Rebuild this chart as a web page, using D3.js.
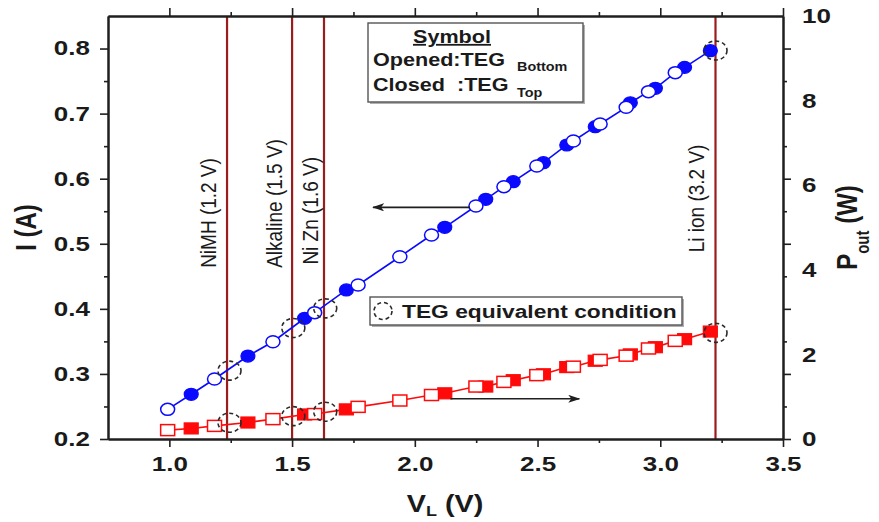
<!DOCTYPE html>
<html><head><meta charset="utf-8">
<script src="https://cdn.jsdelivr.net/npm/d3@7"></script>
<style>
body{margin:0;background:#fff}
svg{display:block}
text{font-family:"Liberation Sans",Arial,Helvetica,sans-serif;fill:#1a1a1a}
</style>
</head><body>
<svg id="c" width="879" height="522"></svg>
<script>
// ---------- data ----------
// TEG Bottom (opened symbols)
const bottomV = [0.993, 1.184, 1.422, 1.592, 1.769, 1.939, 2.068, 2.249, 2.363, 2.497, 2.646, 2.755, 2.861, 2.952, 3.061];
const bottomI = [0.2456, 0.2922, 0.3495, 0.3941, 0.4366, 0.4801, 0.5135, 0.558, 0.5877, 0.6195, 0.6579, 0.684, 0.7097, 0.7337, 0.7629];
const bottomP = [0.21, 0.31, 0.47, 0.59, 0.76, 0.91, 1.04, 1.24, 1.35, 1.51, 1.71, 1.87, 1.97, 2.14, 2.32];
// TEG Top (closed symbols)
const topV = [1.089, 1.320, 1.551, 1.721, 2.122, 2.289, 2.401, 2.524, 2.619, 2.735, 2.878, 2.980, 3.099, 3.204];
const topI = [0.2687, 0.3275, 0.3855, 0.429, 0.5253, 0.5683, 0.5954, 0.6246, 0.6518, 0.6799, 0.7167, 0.7389, 0.7711, 0.7967];
const topP = [0.25, 0.39, 0.58, 0.70, 1.08, 1.24, 1.39, 1.53, 1.70, 1.85, 2.00, 2.17, 2.36, 2.54];
// TEG equivalent condition
const teqV = [1.245, 1.505, 1.635, 3.225];
const teqI = [0.305, 0.3706, 0.4008, 0.797];
const teqP = [0.385, 0.54, 0.645, 2.51];
// battery voltage lines
const batteryNames = ["NiMH (1.2 V)", "Alkaline (1.5 V)", "Ni Zn (1.6 V)", "Li ion (3.2 V)"];
const batteryV = [1.235, 1.50, 1.63, 3.225];
// ticks
const xMajor = [1.0, 1.5, 2.0, 2.5, 3.0, 3.5];
const xMinor = [1.25, 1.75, 2.25, 2.75, 3.25];
const yLMajor = [0.2, 0.3, 0.4, 0.5, 0.6, 0.7, 0.8];
const yLMinor = [0.25, 0.35, 0.45, 0.55, 0.65, 0.75];
const yRLabels = [0, 2, 4, 6, 8, 10];

// ---------- layout ----------
const L = 108, R = 783, T = 16, B = 439;
const SX = 1.2;      // horizontal stretch of the original picture's text
const SXT = 1.3;     // stretch of tick numbers
const BLUE = "#0a0aff", RED = "#ff0a0a", VLINE = "#9a1c1c", INK = "#1f1f1f";

const svg = d3.select("#c");
const x = d3.scaleLinear([0.75, 3.5], [L, R]);
const yL = d3.scaleLinear([0.2, 0.85], [B, T]);
const yR = d3.scaleLinear([0, 10], [B, T]);

function stretch(sel, s) {
  sel.each(function () {
    const t = d3.select(this);
    const px = +t.attr("x") || 0, py = +t.attr("y") || 0;
    t.attr("transform", `translate(${px},${py}) scale(${s},1) translate(${-px},${-py})`);
  });
}
function styleAxis(g) {
  g.select(".domain").attr("stroke", INK).attr("stroke-width", 2);
  g.selectAll(".tick line").attr("stroke", INK).attr("stroke-width", 1.6);
  g.selectAll(".tick text").style("font-size", "20px").style("font-weight", "bold").attr("fill", INK);
}

// ---------- battery lines & labels ----------
const bat = svg.append("g");
batteryV.forEach((v, i) => {
  bat.append("line").attr("x1", x(v)).attr("x2", x(v)).attr("y1", T).attr("y2", B)
    .attr("stroke", VLINE).attr("stroke-width", 2.2);
});
const labelBottomI = [0.463, 0.463, 0.468, 0.487];
const labelGap = [11, 10, 6, 12];
batteryNames.forEach((n, i) => {
  bat.append("text").text(n)
    .attr("transform", `translate(${x(batteryV[i]) - labelGap[i]},${yL(labelBottomI[i])}) scale(${SX},1) rotate(-90)`)
    .attr("text-anchor", "start").style("font-size", "19px");
});

// ---------- axes ----------
const gB = svg.append("g").attr("transform", `translate(0,${B})`)
  .call(d3.axisBottom(x).tickValues(xMajor).tickSize(8).tickSizeOuter(0).tickPadding(10).tickFormat(d3.format(".1f")));
svg.append("g").attr("transform", `translate(0,${B})`)
  .call(d3.axisBottom(x).tickValues(xMinor).tickSize(4).tickSizeOuter(0).tickFormat("")).call(styleAxis);
const gT = svg.append("g").attr("transform", `translate(0,${T})`)
  .call(d3.axisTop(x).tickValues(xMajor).tickSize(8).tickSizeOuter(0).tickFormat(""));
svg.append("g").attr("transform", `translate(0,${T})`)
  .call(d3.axisTop(x).tickValues(xMinor).tickSize(4).tickSizeOuter(0).tickFormat("")).call(styleAxis);
const gL = svg.append("g").attr("transform", `translate(${L},0)`)
  .call(d3.axisLeft(yL).tickValues(yLMajor).tickSize(8).tickSizeOuter(0).tickPadding(10).tickFormat(d3.format(".1f")));
svg.append("g").attr("transform", `translate(${L},0)`)
  .call(d3.axisLeft(yL).tickValues(yLMinor).tickSize(4).tickSizeOuter(0).tickFormat("")).call(styleAxis);
const gR = svg.append("g").attr("transform", `translate(${R},0)`)
  .call(d3.axisRight(yL).tickValues(yLMajor).tickSize(8).tickSizeOuter(0).tickFormat(""));
svg.append("g").attr("transform", `translate(${R},0)`)
  .call(d3.axisRight(yL).tickValues(yLMinor).tickSize(4).tickSizeOuter(0).tickFormat("")).call(styleAxis);
[gB, gT, gL, gR].forEach(g => g.call(styleAxis));
stretch(gB.selectAll(".tick text"), SXT);
stretch(gL.selectAll(".tick text"), SXT);
// right-axis numbers (P_out scale)
const rl = svg.append("g");
yRLabels.forEach(v => {
  rl.append("text").text(v).attr("x", R + 19).attr("y", yR(v)).attr("dy", "0.36em")
    .style("font-size", "20px").style("font-weight", "bold");
});
stretch(rl.selectAll("text"), SXT);

// ---------- axis titles ----------
svg.append("text").attr("transform", `translate(36,${(T + B) / 2}) scale(${SX},1) rotate(-90)`)
  .attr("text-anchor", "middle").style("font-size", "24px").style("font-weight", "bold").text("I (A)");
const pt = svg.append("text").attr("transform", `translate(857,${(T + B) / 2}) scale(${SX},1) rotate(-90)`)
  .attr("text-anchor", "middle").style("font-size", "24px").style("font-weight", "bold");
pt.append("tspan").text("P");
pt.append("tspan").attr("dy", 10).style("font-size", "15px").text("out");
pt.append("tspan").attr("dy", -10).text(" (W)");
const vt = svg.append("text").attr("x", 445).attr("y", 512)
  .attr("text-anchor", "middle").style("font-size", "24px").style("font-weight", "bold");
vt.append("tspan").text("V");
vt.append("tspan").attr("dy", 4).style("font-size", "15px").text("L");
vt.append("tspan").attr("dy", -4).text(" (V)");
stretch(vt, SX);

// ---------- data ----------
const blueAll = bottomV.map((v, i) => [v, bottomI[i]]).concat(topV.map((v, i) => [v, topI[i]])).sort((a, b) => a[0] - b[0]);
const redAll = bottomV.map((v, i) => [v, bottomP[i]]).concat(topV.map((v, i) => [v, topP[i]])).sort((a, b) => a[0] - b[0]);
svg.append("path").attr("d", d3.line().x(d => x(d[0])).y(d => yL(d[1]))(blueAll))
  .attr("fill", "none").attr("stroke", BLUE).attr("stroke-width", 1.6);
svg.append("path").attr("d", d3.line().x(d => x(d[0])).y(d => yR(d[1]))(redAll))
  .attr("fill", "none").attr("stroke", RED).attr("stroke-width", 1.6);

const CRX = 7, CRY = 6, SW = 14, SH = 11;
// closed (Top)
svg.append("g").selectAll("ellipse").data(topV).join("ellipse")
  .attr("cx", d => x(d)).attr("cy", (d, i) => yL(topI[i])).attr("rx", CRX).attr("ry", CRY)
  .attr("fill", BLUE).attr("stroke", BLUE).attr("stroke-width", 1.2);
svg.append("g").selectAll("rect").data(topV).join("rect")
  .attr("x", d => x(d) - SW / 2).attr("y", (d, i) => yR(topP[i]) - SH / 2).attr("width", SW).attr("height", SH)
  .attr("fill", RED).attr("stroke", RED).attr("stroke-width", 1.2);
// opened (Bottom)
svg.append("g").selectAll("ellipse").data(bottomV).join("ellipse")
  .attr("cx", d => x(d)).attr("cy", (d, i) => yL(bottomI[i])).attr("rx", CRX).attr("ry", CRY)
  .attr("fill", "#fff").attr("stroke", BLUE).attr("stroke-width", 1.5);
svg.append("g").selectAll("rect").data(bottomV).join("rect")
  .attr("x", d => x(d) - SW / 2).attr("y", (d, i) => yR(bottomP[i]) - SH / 2).attr("width", SW).attr("height", SH)
  .attr("fill", "#fff").attr("stroke", RED).attr("stroke-width", 1.5);
// TEG equivalent condition
const dashed = { fill: "none", stroke: "#2a2a2a", "stroke-width": 1.6, "stroke-dasharray": "4,3" };
function dash(sel) { Object.entries(dashed).forEach(([k, v]) => sel.attr(k, v)); return sel; }
dash(svg.append("g").selectAll("ellipse").data(teqV).join("ellipse")
  .attr("cx", d => x(d)).attr("cy", (d, i) => yL(teqI[i])).attr("rx", 11.5).attr("ry", 9.5));
dash(svg.append("g").selectAll("ellipse").data(teqV).join("ellipse")
  .attr("cx", d => x(d)).attr("cy", (d, i) => yR(teqP[i])).attr("rx", 11.5).attr("ry", 9.5));

// ---------- arrows ----------
const defs = svg.append("defs");
defs.append("marker").attr("id", "ah").attr("viewBox", "0 0 12 8").attr("refX", 11).attr("refY", 4)
  .attr("markerWidth", 12).attr("markerHeight", 8).attr("markerUnits", "userSpaceOnUse").attr("orient", "auto")
  .append("path").attr("d", "M0,0 L12,4 L0,8 L3,4 Z").attr("fill", INK);
svg.append("line").attr("x1", x(2.225)).attr("x2", x(1.83)).attr("y1", yL(0.556)).attr("y2", yL(0.556))
  .attr("stroke", INK).attr("stroke-width", 1.6).attr("marker-end", "url(#ah)");
svg.append("line").attr("x1", x(2.145)).attr("x2", x(2.67)).attr("y1", yR(0.95)).attr("y2", yR(0.95))
  .attr("stroke", INK).attr("stroke-width", 1.6).attr("marker-end", "url(#ah)");

// ---------- legend: Symbol ----------
const lg = svg.append("g");
lg.append("rect").attr("x", 370).attr("y", 25).attr("width", 215).attr("height", 79).attr("fill", "#b0b0b0");
lg.append("rect").attr("x", 368).attr("y", 23).attr("width", 215).attr("height", 79)
  .attr("fill", "#fff").attr("stroke", "#555").attr("stroke-width", 1.4);
const lt = lg.append("g");
lt.append("text").attr("x", 452).attr("y", 43).attr("text-anchor", "middle")
  .style("font-size", "18px").style("font-weight", "bold").style("text-decoration", "underline").text("Symbol");
lt.append("text").attr("x", 373).attr("y", 66).style("font-size", "18px").style("font-weight", "bold").text("Opened:TEG");
lt.append("text").attr("x", 517).attr("y", 71).style("font-size", "12px").style("font-weight", "bold").text("Bottom");
lt.append("text").attr("x", 373).attr("y", 91).style("font-size", "18px").style("font-weight", "bold")
  .style("white-space", "pre").text("Closed  :TEG");
lt.append("text").attr("x", 517).attr("y", 97).style("font-size", "12px").style("font-weight", "bold").text("Top");
stretch(lt.selectAll("text"), SX);

// ---------- legend: TEG equivalent condition ----------
const lg2 = svg.append("g");
lg2.append("rect").attr("x", 372).attr("y", 299).attr("width", 312).attr("height", 28).attr("fill", "#b0b0b0");
lg2.append("rect").attr("x", 370).attr("y", 297).attr("width", 312).attr("height", 28)
  .attr("fill", "#fff").attr("stroke", "#555").attr("stroke-width", 1.4);
dash(lg2.append("ellipse").attr("cx", 383).attr("cy", 311).attr("rx", 9).attr("ry", 8.5));
const t2 = lg2.append("text").attr("x", 402).attr("y", 318).style("font-size", "19px").style("font-weight", "bold")
  .text("TEG equivalent condition");
stretch(t2, SX);
</script>
</body></html>
